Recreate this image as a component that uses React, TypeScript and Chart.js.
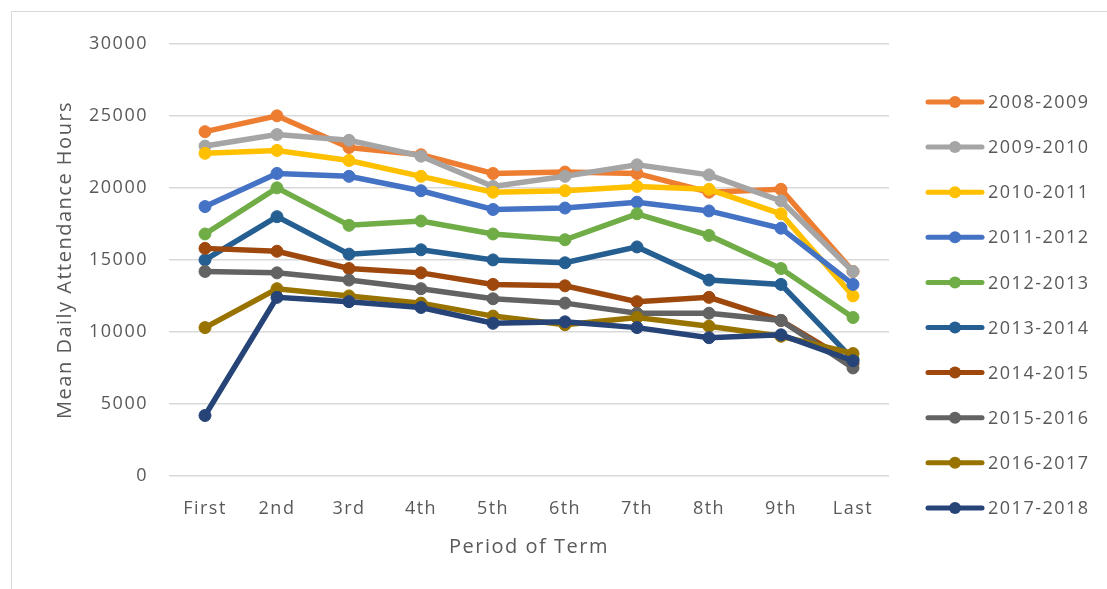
import React, { useEffect, useRef } from "react";
import { Chart, registerables } from "chart.js";

Chart.register(...registerables);

// Periods of the school term along the x axis
const periods = ["First", "2nd", "3rd", "4th", "5th", "6th", "7th", "8th", "9th", "Last"];

// Academic years shown as separate series
const years = [
  "2008-2009",
  "2009-2010",
  "2010-2011",
  "2011-2012",
  "2012-2013",
  "2013-2014",
  "2014-2015",
  "2015-2016",
  "2016-2017",
  "2017-2018",
];

// Mean daily attendance hours per period, one array per year
const y2008 = [23900, 25000, 22800, 22300, 21000, 21100, 21000, 19700, 19900, 14200];
const y2009 = [22900, 23700, 23300, 22200, 20100, 20800, 21600, 20900, 19100, 14200];
const y2010 = [22400, 22600, 21900, 20800, 19700, 19800, 20100, 19900, 18200, 12500];
const y2011 = [18700, 21000, 20800, 19800, 18500, 18600, 19000, 18400, 17200, 13300];
const y2012 = [16800, 20000, 17400, 17700, 16800, 16400, 18200, 16700, 14400, 11000];
const y2013 = [15000, 18000, 15400, 15700, 15000, 14800, 15900, 13600, 13300, 8100];
const y2014 = [15800, 15600, 14400, 14100, 13300, 13200, 12100, 12400, 10800, 7800];
const y2015 = [14200, 14100, 13600, 13000, 12300, 12000, 11300, 11300, 10800, 7500];
const y2016 = [10300, 13000, 12500, 12000, 11100, 10500, 11000, 10400, 9700, 8500];
const y2017 = [4200, 12400, 12100, 11700, 10600, 10700, 10300, 9600, 9800, 8000];

const seriesValues = [y2008, y2009, y2010, y2011, y2012, y2013, y2014, y2015, y2016, y2017];

const seriesColors = [
  "#ED7D31",
  "#A5A5A5",
  "#FFC000",
  "#4472C4",
  "#70AD47",
  "#255E91",
  "#9E480E",
  "#636363",
  "#997300",
  "#264478",
];

// Y axis range and step
const yMin = 0;
const yMax = 30000;
const yStep = 5000;

const FONT = "'Open Sans', 'DejaVu Sans', sans-serif";
const TEXT = "#595959";
const SPACING = "1.5px";
const CANVAS_W = 1094;
const CANVAS_H = 577;

// Slightly wider lettering for every text drawn on the canvas
const wideText = {
  id: "wideText",
  beforeUpdate(chart: any) {
    chart.ctx.letterSpacing = SPACING;
  },
  beforeLayout(chart: any) {
    chart.ctx.letterSpacing = SPACING;
  },
  beforeDraw(chart: any) {
    chart.ctx.letterSpacing = SPACING;
  },
};

// Legend to the right: a short line with a dot, then the year
const sideLegend = {
  id: "sideLegend",
  afterDraw(chart: any) {
    const ctx = chart.ctx;
    ctx.save();
    ctx.letterSpacing = SPACING;
    chart.data.datasets.forEach((ds: any, i: number) => {
      const y = 90 + i * 45.1;
      ctx.strokeStyle = ds.borderColor;
      ctx.lineWidth = 5;
      ctx.lineCap = "round";
      ctx.beginPath();
      ctx.moveTo(916, y);
      ctx.lineTo(970, y);
      ctx.stroke();
      ctx.fillStyle = ds.borderColor;
      ctx.beginPath();
      ctx.arc(943, y, 6, 0, Math.PI * 2);
      ctx.fill();
      ctx.fillStyle = TEXT;
      ctx.font = `18px ${FONT}`;
      ctx.textAlign = "left";
      ctx.textBaseline = "middle";
      ctx.fillText(ds.label, 976, y + 1);
    });
    ctx.restore();
  },
};

export default function App() {
  const canvasRef = useRef<HTMLCanvasElement | null>(null);

  useEffect(() => {
    const canvas = canvasRef.current;
    if (!canvas) return;

    const datasets = years.map((label, i) => ({
      label,
      data: seriesValues[i],
      borderColor: seriesColors[i],
      backgroundColor: seriesColors[i],
      pointBackgroundColor: seriesColors[i],
      pointBorderColor: seriesColors[i],
      borderWidth: 5.5,
      pointRadius: 6,
      pointBorderWidth: 1,
      tension: 0,
      order: -i,
    }));

    const chart = new Chart(canvas, {
      type: "line",
      data: { labels: periods, datasets },
      options: {
        animation: false,
        responsive: false,
        maintainAspectRatio: false,
        devicePixelRatio: 1,
        layout: { padding: { left: 0, top: 30, right: CANVAS_W - 877, bottom: 0 } },
        plugins: {
          legend: { display: false },
          tooltip: { enabled: false },
        },
        scales: {
          x: {
            offset: true,
            grid: { display: false, drawTicks: false },
            border: { display: false },
            ticks: {
              color: TEXT,
              font: { family: FONT, size: 18 },
              padding: 22,
              maxRotation: 0,
              autoSkip: false,
            },
            title: {
              display: true,
              text: "Period of Term",
              color: TEXT,
              font: { family: FONT, size: 20 },
              padding: { top: 0, bottom: 30 },
            },
            afterFit(scale: any) {
              scale.height = CANVAS_H - 464;
            },
          },
          y: {
            min: yMin,
            max: yMax,
            grid: { color: "#d9d9d9", lineWidth: 1.5, drawTicks: false },
            border: { display: false },
            ticks: {
              stepSize: yStep,
              color: TEXT,
              font: { family: FONT, size: 18 },
              padding: 21,
              callback: (value: any) => String(value),
            },
            title: {
              display: true,
              text: "Mean Daily Attendance Hours",
              color: TEXT,
              font: { family: FONT, size: 20 },
              padding: { top: 41, bottom: 0 },
            },
            afterFit(scale: any) {
              scale.width = 157;
            },
          },
        },
      },
      plugins: [wideText, sideLegend],
    });

    return () => chart.destroy();
  }, []);

  return (
    <div
      style={{
        position: "fixed",
        left: 11,
        top: 11,
        width: 1120,
        height: 620,
        border: "1px solid #d9d9d9",
        background: "#ffffff",
      }}
    >
      <canvas
        ref={canvasRef}
        width={CANVAS_W}
        height={CANVAS_H}
        style={{ position: "absolute", left: 0, top: 0, width: CANVAS_W, height: CANVAS_H }}
      />
    </div>
  );
}
